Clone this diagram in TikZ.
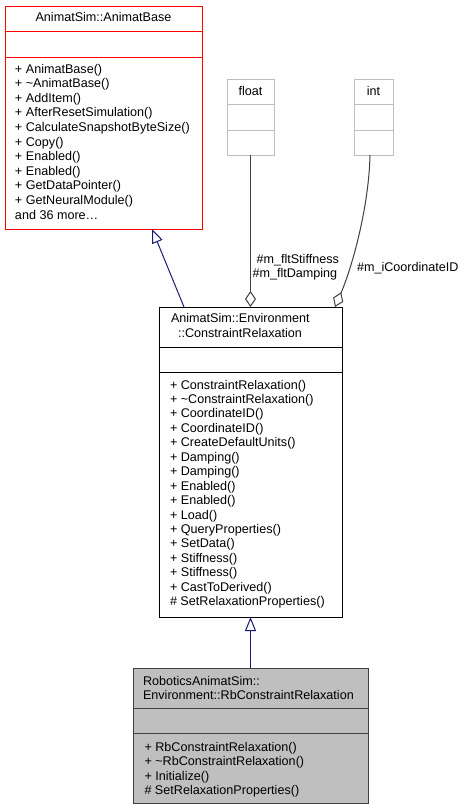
\documentclass[tikz,border=0pt]{standalone}
\usepackage{fontspec}
\setmainfont{Liberation Sans}
\usetikzlibrary{arrows.meta,calc}
\definecolor{inhcol}{HTML}{191970}
\definecolor{aggcol}{HTML}{404040}
\definecolor{lightbd}{HTML}{BFBFBF}
\definecolor{curfill}{HTML}{BFBFBF}
\begin{document}
\begin{tikzpicture}[x=1pt,y=-1pt,
  box/.style={draw, inner sep=0pt, outer sep=0pt, anchor=north west, line width=1pt},
  txt/.style={inner sep=0pt, outer sep=0pt, anchor=base west, font=\fontsize{12.6}{14.5}\selectfont},
  ctxt/.style={txt, anchor=base},
  inh/.style={draw=inhcol, line width=1pt, -{Triangle[open, length=14pt, width=11pt, fill=white]}},
  agg/.style={draw=aggcol, line width=1pt, -{Diamond[open, length=16pt, width=11pt, fill=white]}},
]
\useasboundingbox (0,0) rectangle (467,809);

% AnimatBase
\node[box, draw=red, fill=white, minimum width=197pt, minimum height=223pt] (base) at (5,6) {};
\draw[red, line width=1pt] ([yshift=-25pt]base.north west) -- ([yshift=-25pt]base.north east);
\draw[red, line width=1pt] ([yshift=-51pt]base.north west) -- ([yshift=-51pt]base.north east);
\node[ctxt] (baset) at (103.5,21.7) {AnimatSim::AnimatBase};
\foreach \t [count=\i] in {{+ AnimatBase()},{+ \textasciitilde AnimatBase()},{+ AddItem()},{+ AfterResetSimulation()},{+ CalculateSnapshotByteSize()},{+ Copy()},{+ Enabled()},{+ Enabled()},{+ GetDataPointer()},{+ GetNeuralModule()},{and 36 more\ldots}}
  \node[txt] (b\i) at (15,{73+(\i-1)*14.6}) {\t};

% float
\node[box, draw=lightbd, fill=white, minimum width=47pt, minimum height=76pt] (float) at (227,79) {};
\draw[lightbd, line width=1pt] ([yshift=-25pt]float.north west) -- ([yshift=-25pt]float.north east);
\draw[lightbd, line width=1pt] ([yshift=-51pt]float.north west) -- ([yshift=-51pt]float.north east);
\node[ctxt] (floatt) at (250.5,95.5) {float};

% int
\node[box, draw=lightbd, fill=white, minimum width=39pt, minimum height=76pt] (int) at (354,79) {};
\draw[lightbd, line width=1pt] ([yshift=-25pt]int.north west) -- ([yshift=-25pt]int.north east);
\draw[lightbd, line width=1pt] ([yshift=-51pt]int.north west) -- ([yshift=-51pt]int.north east);
\node[ctxt] (intt) at (373.5,95.5) {int};

% ConstraintRelaxation
\node[box, draw=black, fill=white, minimum width=183pt, minimum height=310pt] (mid) at (159,307) {};
\draw[black, line width=1pt] ([yshift=-40pt]mid.north west) -- ([yshift=-40pt]mid.north east);
\draw[black, line width=1pt] ([yshift=-65pt]mid.north west) -- ([yshift=-65pt]mid.north east);
\node[txt] (midt1) at (171,322.7) {AnimatSim::Environment};
\node[txt] (midt2) at (178,337.7) {::ConstraintRelaxation};
\foreach \t [count=\i] in {{+ ConstraintRelaxation()},{+ \textasciitilde ConstraintRelaxation()},{+ CoordinateID()},{+ CoordinateID()},{+ CreateDefaultUnits()},{+ Damping()},{+ Damping()},{+ Enabled()},{+ Enabled()},{+ Load()},{+ QueryProperties()},{+ SetData()},{+ Stiffness()},{+ Stiffness()},{+ CastToDerived()},{\# SetRelaxationProperties()}}
  \node[txt] (m\i) at (170,{389+(\i-1)*14.45}) {\t};

% RbConstraintRelaxation
\node[box, draw=aggcol, fill=curfill, minimum width=235pt, minimum height=135pt] (rb) at (133,668) {};
\draw[aggcol, line width=1pt] ([yshift=-40pt]rb.north west) -- ([yshift=-40pt]rb.north east);
\draw[aggcol, line width=1pt] ([yshift=-65pt]rb.north west) -- ([yshift=-65pt]rb.north east);
\node[txt] (rbt1) at (143,685) {RoboticsAnimatSim::};
\node[txt] (rbt2) at (143,699.3) {Environment::RbConstraintRelaxation};
\foreach \t [count=\i] in {{+ RbConstraintRelaxation()},{+ \textasciitilde RbConstraintRelaxation()},{+ Initialize()},{\# SetRelaxationProperties()}}
  \node[txt] (r\i) at (144.5,{751.4+(\i-1)*14.4}) {\t};

% connectors
\draw[inh] ([xshift=-66.5pt]mid.north) -- ([xshift=48.5pt]base.south);
\draw[inh] (rb.north) -- (mid.south);
\draw[agg] (float.south) -- (mid.north);
\draw[agg] ([xshift=-3.5pt]int.south) .. controls (369,205) and (353,265) .. ([xshift=84.5pt]mid.north);

% labels
\node[txt] (l1) at (256.5,263.3) {\#m\_fltStiffness};
\node[txt] (l2) at (252.5,277.7) {\#m\_fltDamping};
\node[txt] (l3) at (357,271) {\#m\_iCoordinateID};
\end{tikzpicture}
\end{document}
